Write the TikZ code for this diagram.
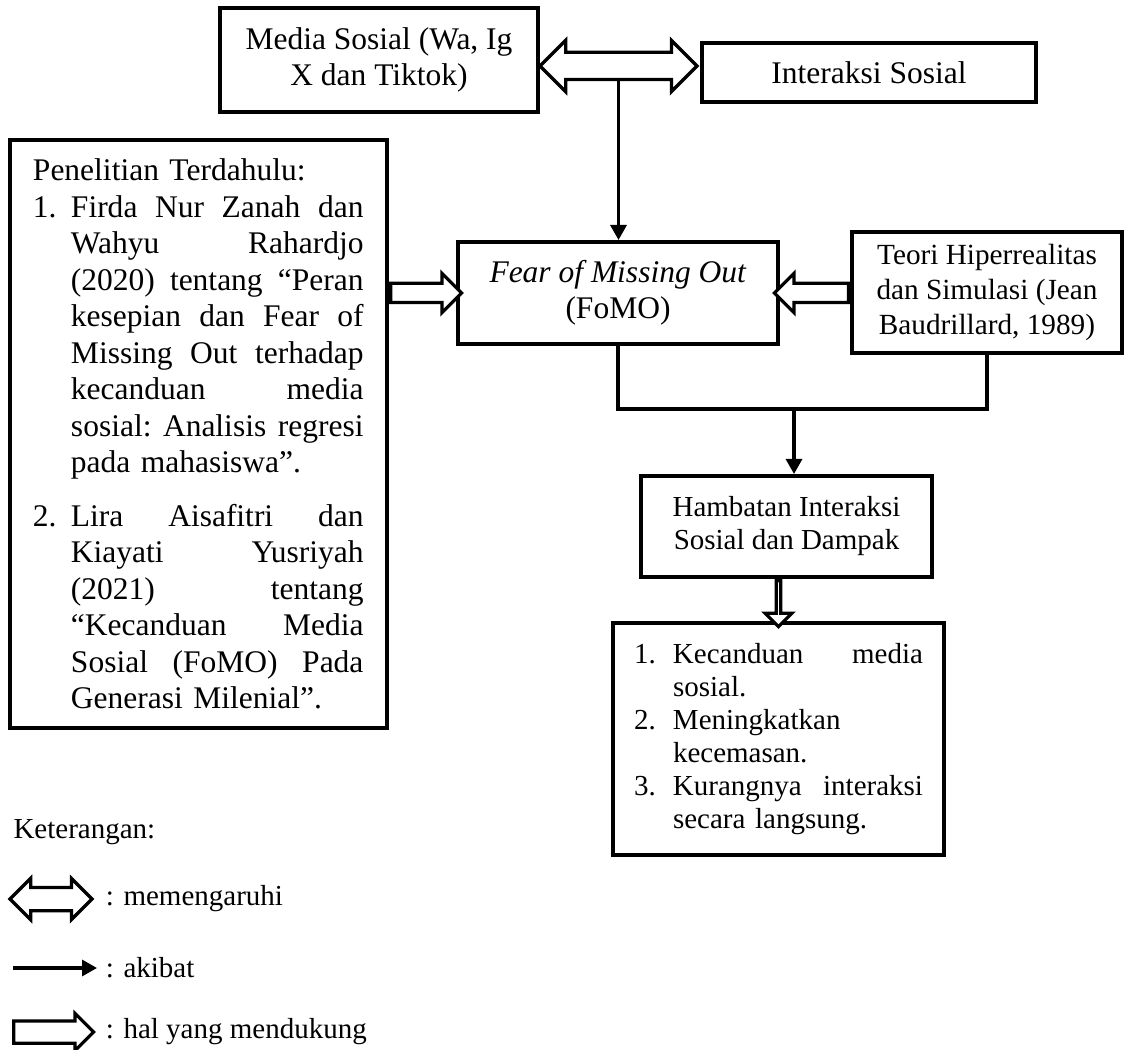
\documentclass[tikz,border=0pt]{standalone}
\usepackage{fontspec}
\setmainfont{Liberation Serif}
\usetikzlibrary{arrows.meta, shapes.arrows}

\newcommand{\fbig}{\fontsize{12.6pt}{14.6pt}\selectfont}
\newcommand{\fmid}{\fontsize{11.7pt}{14pt}\selectfont}
\newcommand{\fsmall}{\fontsize{11.6pt}{13.2pt}\selectfont}
\newcommand{\jl}[2][117pt]{\makebox[#1][s]{\frenchspacing\spaceskip=0pt\xspaceskip=0pt #2}}

\begin{document}
\begin{tikzpicture}[x=0.4pt, y=-0.4pt]
    \tikzstyle{box} = [rectangle, draw=black, line width=1.6pt, align=center, inner sep=0pt, font=\fbig]
    \tikzstyle{akibat} = [-{Triangle[length=6pt, width=6.4pt]}, line width=1.3pt]
    \tikzstyle{dukung} = [single arrow, draw=black, line width=1.3pt, fill=white, inner xsep=0pt, inner ysep=3.2pt, single arrow head extend=4pt, minimum width=14.4pt, anchor=tail]
    \tikzstyle{pengaruh} = [double arrow, draw=black, line width=1.3pt, fill=white, inner xsep=0pt]
    \useasboundingbox (0,0) rectangle (1125,1050);

    \node[box, minimum width=127.2pt, minimum height=41.6pt] (media) at (379,60) {Media Sosial (Wa, Ig\\X dan Tiktok)};
    \node[box, minimum width=133.6pt, minimum height=23.6pt] (interaksi) at (869,72.5) {Interaksi Sosial};
    \node[box, minimum width=128pt, minimum height=40.8pt] (fomo) at (618,293) {\textit{Fear of Missing Out}\\(FoMO)};
    \node[box, minimum width=108pt, minimum height=48.4pt, font=\fmid] (teori) at (987,292.5) {Teori Hiperrealitas\\dan Simulasi (Jean\\Baudrillard, 1989)};
    \node[box, minimum width=116.4pt, minimum height=40.4pt, font=\fsmall] (hambatan) at (786.5,526.5) {Hambatan Interaksi\\Sosial dan Dampak};
    % penelitian terdahulu
    \node[box, align=left, text width=132.4pt, inner xsep=9.2pt, minimum height=235.2pt] (terdahulu) at (198.5,434) {Penelitian Terdahulu:\\
        \makebox[15.2pt][l]{1.}\jl{Firda Nur Zanah dan}\\
        \hspace*{15.2pt}\jl{Wahyu Rahardjo}\\
        \hspace*{15.2pt}\jl{(2020) tentang “Peran}\\
        \hspace*{15.2pt}\jl{kesepian dan Fear of}\\
        \hspace*{15.2pt}\jl{Missing Out terhadap}\\
        \hspace*{15.2pt}\jl{kecanduan media}\\
        \hspace*{15.2pt}\jl{sosial: Analisis regresi}\\
        \hspace*{15.2pt}pada mahasiswa”.\\[6.8pt]
        \makebox[15.2pt][l]{2.}\jl{Lira Aisafitri dan}\\
        \hspace*{15.2pt}\jl{Kiayati Yusriyah}\\
        \hspace*{15.2pt}\jl{(2021) tentang}\\
        \hspace*{15.2pt}\jl{“Kecanduan Media}\\
        \hspace*{15.2pt}\jl{Sosial (FoMO) Pada}\\
        \hspace*{15.2pt}Generasi Milenial”.};
    % dampak
    \node[box, align=left, text width=115.6pt, inner xsep=8.4pt, minimum height=92.8pt, font=\fsmall] (dampak) at (778.5,739) {\makebox[15.6pt][l]{1.}\jl[100pt]{Kecanduan media}\\
        \hspace*{15.6pt}sosial.\\
        \makebox[15.6pt][l]{2.}Meningkatkan\\
        \hspace*{15.6pt}kecemasan.\\
        \makebox[15.6pt][l]{3.}\jl[100pt]{Kurangnya interaksi}\\
        \hspace*{15.6pt}secara langsung.};

    \node[pengaruh, minimum height=62.8pt, minimum width=19.2pt, inner ysep=4.8pt, double arrow head extend=4.8pt] (pengaruh1) at (618.5,66) {};
    \draw[akibat] (pengaruh1.south) -- (pengaruh1.south |- fomo.north);
    \node[dukung, minimum height=28.4pt] (dukung1) at (terdahulu.east |- fomo.west) {};
    \node[dukung, minimum height=29.6pt, shape border rotate=180] (dukung2) at (teori.west |- fomo.east) {};
    \coordinate (temu) at (794,409);
    \draw[line width=1.3pt] (fomo.south) |- (temu) -| (teori.south);
    \draw[akibat] (temu) -- (temu |- hambatan.north);
    \node[dukung, minimum height=18.4pt, minimum width=10.8pt, inner ysep=2pt, single arrow head extend=3.4pt, shape border rotate=270] (dukung3) at (dampak.north |- hambatan.south) {};

    % keterangan
    \node[anchor=west, font=\fsmall, inner sep=0pt] (keterangan) at (13,832) {Keterangan:};
    \node[pengaruh, minimum height=32.8pt, minimum width=15.2pt, inner ysep=4pt, double arrow head extend=3.6pt] (lpengaruh) at (51,899) {};
    \node[anchor=west, font=\fsmall] (lteks1) at (97,899) {: memengaruhi};
    \coordinate (lakibat) at (13,968);
    \node[anchor=west, font=\fsmall] (lteks2) at (97,968) {: akibat};
    \draw[akibat] (lakibat) -- (lteks2.west);
    \node[dukung, minimum height=32pt, minimum width=13.6pt, inner ysep=3.8pt, single arrow head extend=3pt] (ldukung) at (12,1032) {};
    \node[anchor=west, font=\fsmall] (lteks3) at (97,1032) {: hal yang mendukung};
\end{tikzpicture}
\end{document}
